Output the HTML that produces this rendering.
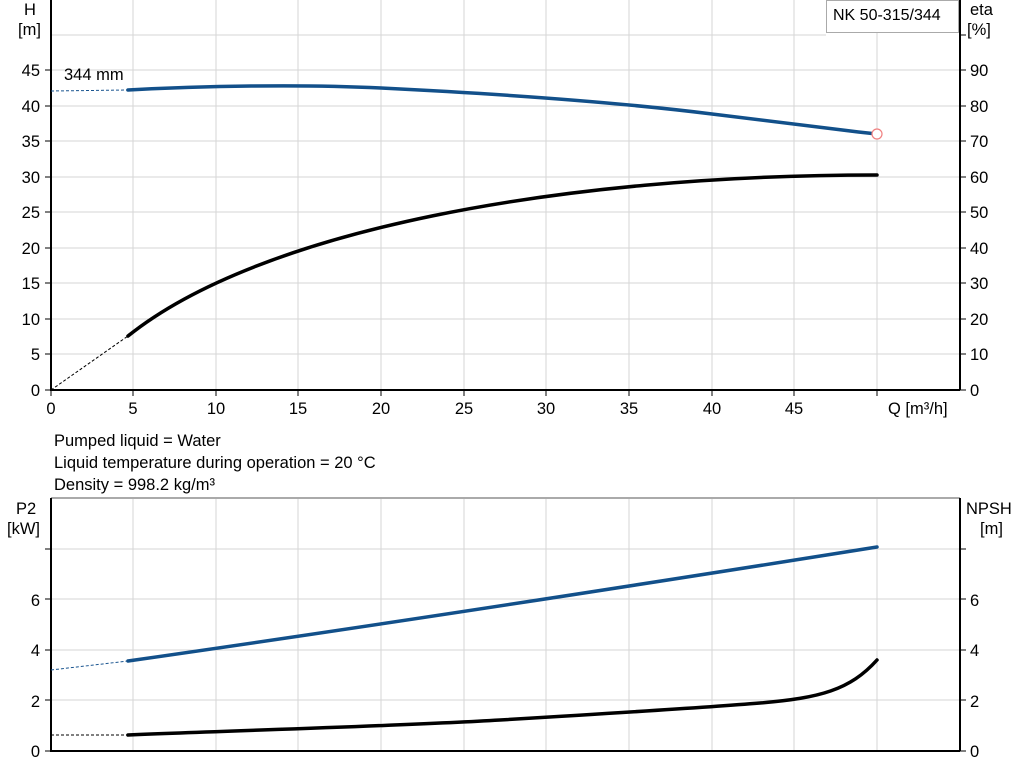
<!DOCTYPE html>
<html><head><style>body{margin:0;background:#fff}svg{display:block;font-family:"Liberation Sans",sans-serif}</style></head><body>
<svg width="1024" height="781" viewBox="0 0 1024 781" xmlns="http://www.w3.org/2000/svg">
<g stroke="#d6d6d6" stroke-width="1">
<path d="M133 0V390M216 0V390M298 0V390M381 0V390M464 0V390M546 0V390M629 0V390M712 0V390M794 0V390M877 33V390"/>
<path d="M51 35H826M51 70H960M51 106H960M51 141H960M51 177H960M51 212H960M51 248H960M51 283H960M51 319H960M51 354H960"/>
<path d="M133 498V751M216 498V751M298 498V751M381 498V751M464 498V751M546 498V751M629 498V751M712 498V751M794 498V751M877 498V751"/>
<path d="M51 549H960M51 599H960M51 650H960M51 700H960"/>
</g>
<path d="M51 498H960" stroke="#aaa" stroke-width="2"/>
<rect x="826.5" y="0.5" width="132" height="32" fill="#fff" stroke="#aaa"/>
<text x="833" y="20" font-size="16">NK 50-315/344</text>
<g stroke="#000" stroke-width="2" fill="none">
<path d="M51 0V390H960M960 0V390M51 498V751H960M960 498V751"/>
</g>
<g stroke="#000" stroke-width="1">
<path d="M45 70H51M45 106H51M45 141H51M45 177H51M45 212H51M45 248H51M45 283H51M45 319H51M45 354H51M45 390H51"/>
<path d="M960 35H966M960 70H966M960 106H966M960 141H966M960 177H966M960 212H966M960 248H966M960 283H966M960 319H966M960 354H966M960 390H966"/>
<path d="M51 390V396M133 390V396M216 390V396M298 390V396M381 390V396M464 390V396M546 390V396M629 390V396M712 390V396M794 390V396M877 390V396"/>
<path d="M45 549H51M45 599H51M45 650H51M45 700H51M45 751H51M960 549H966M960 599H966M960 650H966M960 700H966M960 751H966"/>
</g>
<g font-size="16.5" fill="#000">
<text x="24" y="15">H</text><text x="18" y="35">[m]</text>
<text x="970" y="15">eta</text><text x="967" y="35">[%]</text>
<g text-anchor="end">
<text x="40" y="76">45</text><text x="40" y="112">40</text><text x="40" y="147">35</text><text x="40" y="183">30</text><text x="40" y="218">25</text><text x="40" y="254">20</text><text x="40" y="289">15</text><text x="40" y="325">10</text><text x="40" y="360">5</text><text x="40" y="396">0</text>
<text x="40" y="606">6</text><text x="40" y="656">4</text><text x="40" y="707">2</text><text x="40" y="757">0</text>
</g>
<text x="970" y="76">90</text><text x="970" y="112">80</text><text x="970" y="147">70</text><text x="970" y="183">60</text><text x="970" y="218">50</text><text x="970" y="254">40</text><text x="970" y="289">30</text><text x="970" y="325">20</text><text x="970" y="360">10</text><text x="970" y="396">0</text>
<text x="970" y="606">6</text><text x="970" y="656">4</text><text x="970" y="707">2</text><text x="970" y="757">0</text>
<g text-anchor="middle">
<text x="51" y="414">0</text><text x="133" y="414">5</text><text x="216" y="414">10</text><text x="298" y="414">15</text><text x="381" y="414">20</text><text x="464" y="414">25</text><text x="546" y="414">30</text><text x="629" y="414">35</text><text x="712" y="414">40</text><text x="794" y="414">45</text>
</g>
<text x="888" y="414">Q [m³/h]</text>
<text x="64" y="80">344 mm</text>
<text x="54" y="446">Pumped liquid = Water</text>
<text x="54" y="468">Liquid temperature during operation = 20 °C</text>
<text x="54" y="490">Density = 998.2 kg/m³</text>
<text x="16" y="514">P2</text><text x="7" y="534">[kW]</text>
<text x="966" y="514">NPSH</text><text x="980" y="534">[m]</text>
</g>
<g fill="none" stroke-dasharray="3,2" stroke-width="1">
<path d="M51 91L128 90" stroke="#1a5590"/>
<path d="M51 390L128 336" stroke="#000"/>
<path d="M51 670L128 661" stroke="#1a5590"/>
<path d="M51 735L128 735" stroke="#000"/>
</g>
<g fill="none" stroke-width="3.5" stroke-linecap="round">
<path d="M128 90C200 86 300 84 381 88S600 100 712 114S840 130 877 134" stroke="#12508a"/>
<path d="M128 336C260 230 560 175 877 175" stroke="#000"/>
<path d="M128 661Q450 615 877 547" stroke="#12508a"/>
<path d="M128 735C250 730 400 726 500 720S700 708 760 703S850 690 877 660" stroke="#000"/>
</g>
<circle cx="877" cy="134" r="5" fill="#fff" stroke="#f08080" stroke-width="1.2"/>
</svg>
</body></html>
